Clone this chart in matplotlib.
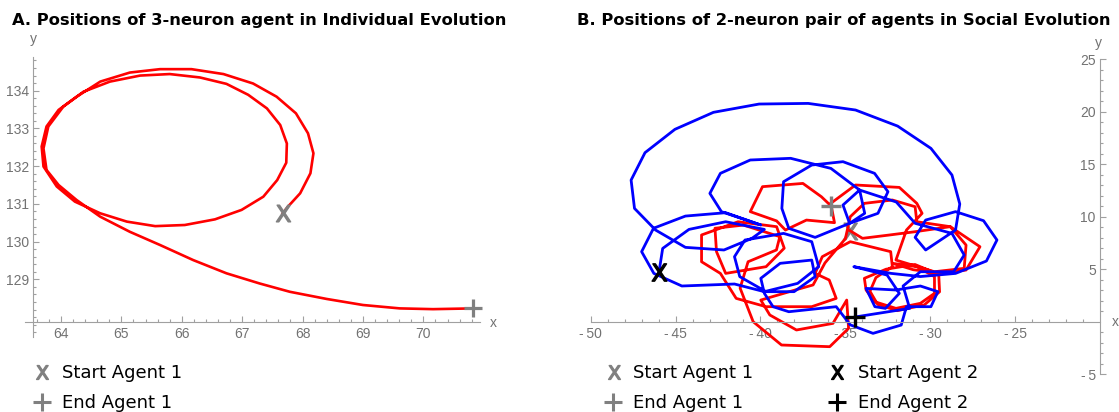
import matplotlib
matplotlib.use("Agg")
import matplotlib.pyplot as plt
from matplotlib.lines import Line2D
from matplotlib.ticker import FixedLocator, FuncFormatter

# ---------------- data ----------------
# Panel A: individual evolution, 3-neuron agent
ind_x = [67.67, 67.76, 67.96, 68.13, 68.18, 68.09, 67.89, 67.57, 67.18, 66.69,
         66.16, 65.64, 65.14, 64.65, 64.26, 63.96, 63.76, 63.68, 63.71, 63.93,
         64.23, 64.65, 65.09, 65.56, 66.05, 66.55, 66.99, 67.35, 67.58, 67.73,
         67.74, 67.63, 67.41, 67.10, 66.74, 66.30, 65.80, 65.31, 64.81, 64.37,
         64.04, 63.79, 63.71, 63.76, 63.96, 64.26, 64.65, 65.14, 65.64, 66.19,
         66.74, 67.29, 67.79, 68.40, 69.00, 69.61, 70.16, 70.83]
ind_y = [130.75, 130.93, 131.28, 131.81, 132.34, 132.87, 133.40, 133.84, 134.19, 134.44,
         134.57, 134.57, 134.48, 134.24, 133.84, 133.49, 133.05, 132.52, 131.99, 131.46,
         131.06, 130.75, 130.53, 130.41, 130.44, 130.59, 130.84, 131.19, 131.63, 132.09,
         132.60, 133.09, 133.53, 133.89, 134.18, 134.35, 134.44, 134.40, 134.24, 133.97,
         133.58, 133.05, 132.47, 131.90, 131.50, 131.10, 130.66, 130.26, 129.91, 129.51,
         129.16, 128.89, 128.67, 128.48, 128.32, 128.23, 128.21, 128.23]

# Panel B: social evolution, agent 1 (red) and agent 2 (blue)
red_x = [-34.73, -33.99, -32.44, -30.89, -28.82, -27.07, -27.89, -29.34, -31.00, -32.23,
         -30.79, -29.75, -29.75, -30.58, -32.02, -33.26, -33.78, -33.88, -32.60, -30.90,
         -29.50, -29.45, -30.35, -31.95, -33.10, -33.55, -33.20, -32.23, -32.33,
         -34.71, -36.36, -36.78, -35.95, -35.54, -36.98, -39.67, -41.43, -42.36, -43.47,
         -43.47, -41.32, -39.05, -38.60, -39.67, -42.05, -42.59, -42.68, -41.00, -38.86,
         -39.06, -40.73, -41.20, -40.43, -38.76, -35.92, -34.81, -34.92, -35.73, -37.88,
         -39.45, -39.98, -38.00, -36.90, -36.20, -35.00, -34.71, -33.88, -32.23, -30.89, -30.79,
         -28.82, -27.89, -28.00, -29.75, -32.02, -31.40, -30.48, -30.79, -31.82, -34.40,
         -35.86, -35.64, -37.29, -38.53, -39.05, -40.60, -39.88, -37.50, -36.41, -35.86]
red_y = [8.67, 7.94, 8.25, 8.57, 9.05, 7.14, 4.92, 4.60, 4.95, 5.56,
         5.24, 4.29, 2.70, 1.75, 1.27, 1.90, 3.02, 4.13, 5.00, 5.45,
         4.50, 2.85, 1.60, 1.05, 1.65, 2.90, 4.20, 5.24, 6.67,
         7.62, 6.19, 4.60, 3.97, 2.22, 1.43, 1.43, 2.22, 4.60, 5.71,
         8.26, 9.52, 9.05, 7.00, 5.24, 4.60, 6.67, 8.90, 9.20, 8.10,
         6.83, 5.71, 3.20, 0.00, -2.22, -2.38, -0.63, 2.06, -0.16, -0.79,
         0.64, 2.06, 3.00, 3.50, 5.60, 7.90, 10.00, 11.27, 11.59, 10.95, 9.52,
         9.05, 7.30, 5.08, 4.76, 5.87, 8.73, 10.32, 11.27, 12.79, 13.02,
         11.27, 9.43, 9.68, 8.73, 9.60, 10.48, 12.86, 13.17, 11.90, 11.05]

blue_x = [-45.98, -45.76, -44.21, -42.05, -39.77, -40.50, -42.15, -44.42, -46.18, -47.42,
          -47.62, -46.80, -45.04, -42.77, -40.08, -37.19, -34.40, -31.92, -29.96, -28.72,
          -28.26, -28.51, -30.27, -30.89, -30.27, -28.51, -26.86, -26.07, -26.69, -28.51,
          -30.58, -32.30, -34.50, -32.54, -31.82, -32.64, -33.26, -33.78, -32.02, -30.58,
          -29.55, -29.96, -31.40, -31.71, -33.37, -34.71, -35.54, -38.33, -39.26, -39.77,
          -39.98, -38.84, -36.98, -36.78, -38.02, -39.67, -41.22, -41.53, -40.91, -38.64,
          -36.98, -36.57, -37.81, -39.77, -41.53, -44.63, -46.28, -47.00, -46.30, -44.42,
          -42.05, -39.98, -42.30, -42.98, -42.36, -40.60, -38.22, -35.85, -34.16, -33.86,
          -34.75, -36.78, -38.33, -38.74, -38.64, -36.98, -35.14, -33.28, -32.49, -33.08,
          -34.75, -35.14, -34.16, -32.00, -30.89, -28.72, -28.00, -28.62, -30.58, -31.60,
          -31.21, -34.42]
blue_y = [4.70, 6.98, 8.79, 9.52, 8.79, 7.94, 6.83, 7.08, 8.73, 10.79,
          13.49, 16.10, 18.32, 19.94, 20.73, 20.79, 20.16, 18.63, 16.51, 13.97,
          11.21, 8.73, 6.83, 8.03, 9.68, 10.48, 9.62, 7.78, 5.78, 4.60,
          4.30, 4.60, 5.24, 4.44, 2.70, 1.27, 1.43, 3.17, 3.02, 3.40,
          2.86, 1.43, 1.43, -0.32, -1.11, -0.30, 1.43, 0.95, 1.43, 2.70,
          4.13, 5.56, 5.87, 4.29, 2.86, 2.86, 4.29, 6.19, 7.78, 8.41,
          7.62, 5.24, 3.65, 2.86, 3.59, 3.40, 4.60, 6.67, 8.90, 10.06,
          10.38, 9.21, 10.48, 12.22, 14.13, 15.40, 15.56, 14.60, 12.54, 10.32,
          9.37, 8.03, 8.89, 10.79, 13.33, 14.92, 15.24, 14.13, 12.38, 10.32,
          9.37, 11.11, 12.54, 11.40, 9.37, 8.41, 6.35, 4.76, 4.76, 3.40,
          1.27, 0.45]

title_a = "A. Positions of 3-neuron agent in Individual Evolution"
title_b = "B. Positions of 2-neuron pair of agents in Social Evolution"
a_xticks = [64, 65, 66, 67, 68, 69, 70]
a_yticks = [129, 130, 131, 132, 133, 134]
b_xticks = [-50, -45, -40, -35, -30, -25]
b_yticks = [-5, 5, 10, 15, 20, 25]

# ---------------- figure ----------------
W, H = 1119, 412
fig = plt.figure(figsize=(W / 100, H / 100), dpi=100)
plt.rcParams["mathtext.fontset"] = "dejavusans"

AXC = "#a0a0a0"
LBL = "#727272"
GRAY = "#808080"
TICKFONT = ["Liberation Sans", "DejaVu Sans"]
XMARK = r"$\mathsf{X}$"


def fx(px):
    return px / W


def fy(py):
    return 1 - py / H


def fmt(v, pos=None):
    s = "%g" % v
    if s.startswith("-"):
        s = "-\u2009" + s[1:]
    return s


def style_axes(ax, xmaj, xmin, ymaj, ymin):
    for s in ("top", "right"):
        ax.spines[s].set_visible(False)
    for s in ("left", "bottom"):
        ax.spines[s].set_color(AXC)
        ax.spines[s].set_linewidth(0.8)
    ax.xaxis.set_major_locator(FixedLocator(xmaj))
    ax.xaxis.set_minor_locator(FixedLocator(xmin))
    ax.yaxis.set_major_locator(FixedLocator(ymaj))
    ax.yaxis.set_minor_locator(FixedLocator(ymin))
    ax.xaxis.set_major_formatter(FuncFormatter(fmt))
    ax.yaxis.set_major_formatter(FuncFormatter(fmt))
    ax.tick_params(which="both", direction="in", color=AXC, width=0.8,
                   labelcolor=LBL, labelsize=10)
    ax.tick_params(which="major", length=4.0)
    ax.tick_params(which="minor", length=2.2)
    ax.tick_params(axis="x", pad=4)
    ax.tick_params(axis="y", pad=3)
    for lab in ax.get_xticklabels() + ax.get_yticklabels():
        lab.set_family(TICKFONT)
    ax.patch.set_visible(False)


# ---------- Panel A ----------
axA = fig.add_axes([fx(25), fy(336.7), (480 - 25) / W, (336.7 - 56.7) / H])
axA.set_xlim(63.404, 70.938)
axA.set_ylim(127.48, 134.90)
axA.spines["left"].set_position(("data", 63.541))
axA.spines["bottom"].set_position(("data", 127.877))
a_xminor = [63.6 + 0.2 * i for i in range(37)]
a_yminor = [127.6 + 0.2 * i for i in range(37)]
style_axes(axA, a_xticks, a_xminor, a_yticks, a_yminor)
axA.plot(ind_x, ind_y, color="red", lw=1.9, solid_joinstyle="round", zorder=2)
axA.plot([ind_x[0]], [ind_y[0]], ls="none", marker=XMARK, ms=12,
         color=GRAY, zorder=3, clip_on=False)
axA.plot([ind_x[-1]], [ind_y[-1]], ls="none", marker="+", ms=13, mew=2.3,
         color=GRAY, zorder=3, clip_on=False)

# ---------- Panel B ----------
axB = fig.add_axes([fx(590.7), fy(374.2), (1100 - 590.7) / W, (374.2 - 59.2) / H])
axB.set_xlim(-50, -20)
axB.set_ylim(-5, 25)
axB.spines["left"].set_position(("data", -20))
axB.spines["bottom"].set_position(("data", 0))
b_xminor = [v for v in range(-49, -20) if v % 5 != 0]
b_yminor = [v for v in range(-4, 25) if v % 5 != 0]
style_axes(axB, b_xticks, b_xminor, b_yticks, b_yminor)
axB.tick_params(axis="y", which="major", length=4.5)
axB.plot([red_x[0]], [red_y[0]], ls="none", marker=XMARK, ms=12,
         color=GRAY, zorder=1.5, clip_on=False)
axB.plot(red_x, red_y, color="red", lw=2.0, zorder=2, clip_on=False)
axB.plot(blue_x, blue_y, color="blue", lw=2.0, zorder=2.1, clip_on=False)
axB.plot([red_x[-1]], [red_y[-1]], ls="none", marker="+", ms=14, mew=2.4,
         color=GRAY, zorder=3, clip_on=False)
axB.plot([blue_x[0]], [blue_y[0]], ls="none", marker=XMARK, ms=12.5,
         color="black", zorder=3, clip_on=False)
axB.plot([blue_x[-1]], [blue_y[-1]], ls="none", marker="+", ms=14.5, mew=2.4,
         color="black", zorder=3, clip_on=False)

# ---------- axis letters ----------
for (px, py, s) in [(493.3, 322.7, "x"), (33.3, 39.5, "y"),
                    (1115, 321.7, "x"), (1098.5, 43.3, "y")]:
    fig.text(fx(px), fy(py), s, ha="center", va="center", color=LBL,
             fontsize=10, family=TICKFONT)

# ---------- titles ----------
renderer = fig.canvas.get_renderer()


def fit_width(t, target):
    w = t.get_window_extent(renderer).width
    t.set_fontsize(t.get_fontsize() * target / w)


tA = fig.text(fx(11.7), fy(25), title_a, ha="left", va="baseline",
              fontsize=11.5, fontweight="bold", family="DejaVu Sans")
fit_width(tA, 499)
tB = fig.text(fx(576.7), fy(25.5), title_b, ha="left", va="baseline",
              fontsize=11.5, fontweight="bold", family="DejaVu Sans")
fit_width(tB, 535)

# ---------- legends ----------
def legend_row(xm, xt, y, marker, color, label, ms, mew=None):
    kw = dict(ls="none", marker=marker, ms=ms, color=color,
              transform=fig.transFigure)
    if mew is not None:
        kw["mew"] = mew
    fig.add_artist(Line2D([fx(xm)], [fy(y)], **kw))
    t = fig.text(fx(xt), fy(y + 6.3), label, ha="left", va="baseline",
                 fontsize=12, family="DejaVu Sans", color="black")
    return t


rows = [
    (42, 62, 372, XMARK, GRAY, "Start Agent 1", 10, None, 120),
    (42, 62, 401.5, "+", GRAY, "End Agent 1", 13, 2.2, 110),
    (614, 633.3, 372, XMARK, GRAY, "Start Agent 1", 10, None, 120),
    (612.5, 633.3, 401.5, "+", GRAY, "End Agent 1", 13, 2.2, 110),
    (836.7, 857.5, 372, XMARK, "black", "Start Agent 2", 10, None, 120),
    (836.5, 857.5, 401.5, "+", "black", "End Agent 2", 13, 2.2, 110),
]
for xm, xt, y, mk, c, lab, ms, mew, wpx in rows:
    t = legend_row(xm, xt, y, mk, c, lab, ms, mew)
    fit_width(t, wpx)

fig.savefig("out.png", dpi=100)
